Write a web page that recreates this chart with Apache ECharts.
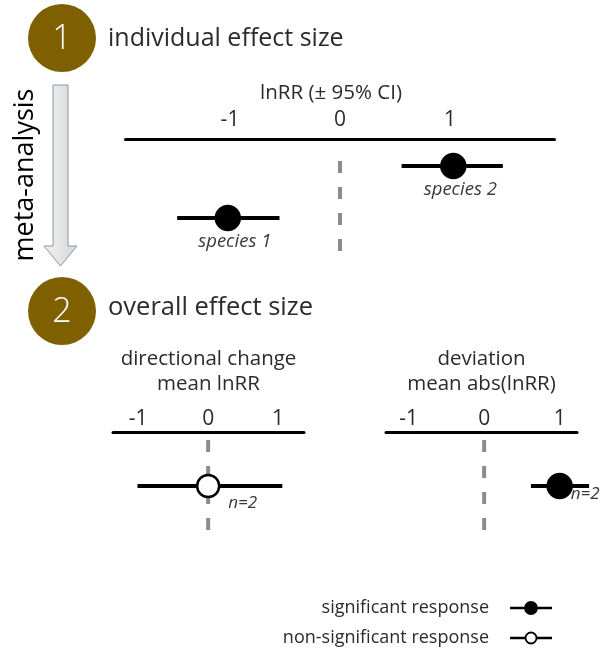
<!DOCTYPE html>
<html>
<head>
<meta charset="utf-8">
<script src="https://cdn.jsdelivr.net/npm/echarts@6/dist/echarts.min.js"></script>
<style>
  html, body { margin: 0; padding: 0; background: #fff; }
  #chart { width: 604px; height: 649px; }
</style>
</head>
<body>
<div id="chart"></div>
<script>
/*
| Data
*/

const tickValues = [-1, 0, 1];

// Step 1: individual effect sizes (lnRR with 95% CI)
const speciesNames = ['species 1', 'species 2'];
const speciesEst = [-1.02, 1.03];
const speciesLow = [-1.48, 0.56];
const speciesHigh = [-0.55, 1.48];
const speciesRow = [7.9, 2.7];          // vertical slot inside panel 1
const speciesSig = [1, 1];

// Step 2: overall effect sizes
const overallTitles = ['directional change\nmean lnRR', 'deviation\nmean abs(lnRR)'];
const overallEst = [0, 1.0];
const overallLow = [-1.01, 0.62];
const overallHigh = [1.06, 1.39];
const overallN = [2, 2];
const overallSig = [0, 1];
const overallRow = [5.4, 5.4];

// zero reference lines, [from, to] on each panel's row scale
const zeroLine1 = [2.2, 11.3];
const zeroLine2 = [0.8, 9.8];

// legend entries
const legendLabels = ['significant response', 'non-significant response'];
const legendSig = [1, 0];

/*
| Styles
*/

const FONT = '"Open Sans", "Noto Sans", sans-serif';
const TEXT = '#2b2b2b';
const BADGE = '#7f6000';

// Draws an interval (CI line + point estimate) and an optional label
function intervalRenderer(opts) {
    return (params, api) => {
        const row = api.value(3);
        const lo = api.coord([api.value(0), row]);
        const hi = api.coord([api.value(1), row]);
        const mid = api.coord([api.value(2), row]);
        const sig = api.value(4);
        const children = [
            {
                type: 'line',
                shape: { x1: lo[0], y1: lo[1], x2: hi[0], y2: hi[1] },
                style: { stroke: '#000', lineWidth: opts.lineWidth },
            },
            {
                type: 'circle',
                shape: { cx: mid[0], cy: mid[1], r: sig ? opts.r : opts.rOpen },
                style: { fill: sig ? '#000' : '#fff', stroke: '#000', lineWidth: opts.strokeWidth },
            },
        ];
        if (opts.labels) {
            children.push({
                type: 'text',
                x: mid[0] + opts.dx,
                y: mid[1] + opts.dy,
                style: {
                    text: opts.labels[params.dataIndex],
                    fill: '#3a3a3a',
                    fontFamily: FONT,
                    fontStyle: 'italic',
                    fontSize: opts.fontSize,
                    align: opts.align,
                    verticalAlign: 'middle',
                },
            });
        }
        return { type: 'group', children };
    };
}

function topValueAxis(gridIndex, min, max, name, nameGap, margin, namePadding) {
    return {
        gridIndex, type: 'value', position: 'top', min, max,
        name, nameLocation: 'middle', nameGap,
        nameTextStyle: { fontFamily: FONT, fontSize: 20.5, color: TEXT, lineHeight: 25, padding: namePadding || 0 },
        axisLine: { show: true, onZero: false, lineStyle: { color: '#000', width: 3 } },
        axisTick: { show: false },
        splitLine: { show: false },
        axisLabel: {
            customValues: tickValues, margin,
            fontFamily: FONT, fontSize: 21, color: TEXT,
        },
    };
}

function rowAxis(gridIndex, max) {
    return { gridIndex, type: 'value', inverse: true, min: 0, max, show: false };
}

function zeroLineSeries(axisIndex, span) {
    return {
        type: 'line', xAxisIndex: axisIndex, yAxisIndex: axisIndex,
        data: span.map(y => [0, y]),
        symbol: 'none', silent: true, z: 1,
        lineStyle: { color: '#8c8c8c', width: 4, type: [12, 14] },
    };
}

/*
| Chart
*/

const chart = echarts.init(document.getElementById('chart'));

const overallData = i => [[overallLow[i], overallHigh[i], overallEst[i], overallRow[i], overallSig[i]]];

chart.setOption({
    animation: false,
    grid: [
        { left: 125.5, width: 429, top: 139, height: 121, outerBoundsMode: 'none' },
        { left: 113, width: 191, top: 432, height: 110, outerBoundsMode: 'none' },
        { left: 386, width: 191, top: 432, height: 110, outerBoundsMode: 'none' },
        { left: 510, width: 42, top: 593, height: 60, outerBoundsMode: 'none' },
    ],
    xAxis: [
        topValueAxis(0, -1.95, 1.95, 'lnRR (± 95% CI)', 33, 8, [0, 18, 0, 0]),
        topValueAxis(1, -1.36, 1.37, overallTitles[0], 35, 2),
        topValueAxis(2, -1.30, 1.23, overallTitles[1], 35, 2),
        { gridIndex: 3, type: 'value', min: -1, max: 1, show: false },
    ],
    yAxis: [
        rowAxis(0, 12.1),
        rowAxis(1, 11),
        rowAxis(2, 11),
        {
            gridIndex: 3, type: 'category', inverse: true, data: legendLabels,
            axisLine: { show: false }, axisTick: { show: false }, splitLine: { show: false },
            axisLabel: { margin: 21, fontFamily: FONT, fontSize: 18, color: TEXT },
        },
    ],
    series: [
        zeroLineSeries(0, zeroLine1),
        zeroLineSeries(1, zeroLine2),
        zeroLineSeries(2, zeroLine2),
        {
            type: 'custom', xAxisIndex: 0, yAxisIndex: 0, z: 2,
            encode: { x: [0, 1, 2], y: 3 },
            data: speciesNames.map((_, i) => [speciesLow[i], speciesHigh[i], speciesEst[i], speciesRow[i], speciesSig[i]]),
            renderItem: intervalRenderer({
                lineWidth: 4, r: 12, rOpen: 11, strokeWidth: 2.5,
                labels: speciesNames, dx: 7, dy: 24, fontSize: 18.5, align: 'center',
            }),
        },
        {
            type: 'custom', xAxisIndex: 1, yAxisIndex: 1, z: 2,
            encode: { x: [0, 1, 2], y: 3 },
            data: overallData(0),
            renderItem: intervalRenderer({
                lineWidth: 4, r: 12, rOpen: 11, strokeWidth: 2.5,
                labels: overallN.map(n => 'n=' + n), dx: 20, dy: 17, fontSize: 17, align: 'left',
            }),
        },
        {
            type: 'custom', xAxisIndex: 2, yAxisIndex: 2, z: 2,
            encode: { x: [0, 1, 2], y: 3 },
            data: overallData(1),
            renderItem: intervalRenderer({
                lineWidth: 4, r: 12, rOpen: 11, strokeWidth: 2.5,
                labels: overallN.map(n => 'n=' + n), dx: 11, dy: 8, fontSize: 17, align: 'left',
            }),
        },
        {
            type: 'custom', xAxisIndex: 3, yAxisIndex: 3, z: 2,
            encode: { x: [0, 1, 2], y: 3 },
            data: legendLabels.map((_, i) => [-1, 1, 0, i, legendSig[i]]),
            renderItem: intervalRenderer({ lineWidth: 2.5, r: 6, rOpen: 5.5, strokeWidth: 1.8 }),
        },
    ],
    graphic: [
        // step badges and headings
        { type: 'circle', shape: { cx: 62, cy: 38, r: 34 }, style: { fill: BADGE } },
        { type: 'text', x: 62, y: 39, style: { text: '1', fill: '#fff', fontFamily: FONT, fontSize: 34, fontWeight: 300, align: 'center', verticalAlign: 'middle' } },
        { type: 'text', x: 108, y: 39, style: { text: 'individual effect size', fill: TEXT, fontFamily: FONT, fontSize: 25, verticalAlign: 'middle' } },
        { type: 'circle', shape: { cx: 62, cy: 311, r: 34 }, style: { fill: BADGE } },
        { type: 'text', x: 62, y: 312, style: { text: '2', fill: '#fff', fontFamily: FONT, fontSize: 34, fontWeight: 300, align: 'center', verticalAlign: 'middle' } },
        { type: 'text', x: 108, y: 308, style: { text: 'overall effect size', fill: TEXT, fontFamily: FONT, fontSize: 25.5, verticalAlign: 'middle' } },
        // meta-analysis arrow
        {
            type: 'polygon',
            shape: { points: [[53, 85], [68, 85], [68, 246], [77, 246], [60.5, 266], [44, 246], [53, 246]] },
            style: {
                fill: new echarts.graphic.LinearGradient(0, 0, 1, 0, [
                    { offset: 0, color: '#f2f2f2' },
                    { offset: 1, color: '#d6d6d6' },
                ]),
                stroke: '#8497b0', lineWidth: 1,
            },
        },
        {
            type: 'text', x: 25, y: 175, rotation: Math.PI / 2,
            style: { text: 'meta-analysis', fill: '#000', fontFamily: FONT, fontSize: 27, align: 'center', verticalAlign: 'middle' },
        },
    ],
});
</script>
</body>
</html>
